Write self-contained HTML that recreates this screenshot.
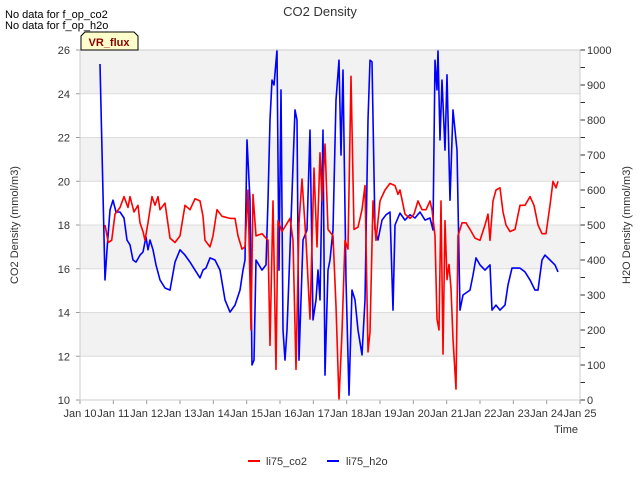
<!DOCTYPE html>
<html><head><meta charset="utf-8"><style>
body{margin:0;background:#fff;}
svg{font-family:"Liberation Sans",sans-serif;}
</style></head><body>
<svg id="chart" width="640" height="480" xmlns="http://www.w3.org/2000/svg">
<text x="320" y="16" text-anchor="middle" font-size="13" fill="#333">CO2 Density</text>
<text x="5" y="18" font-size="11" fill="#000">No data for f_op_co2</text>
<text x="5" y="29" font-size="11" fill="#000">No data for f_op_h2o</text>
<g id="bands"></g>
<g id="grid"></g>
<g id="series"></g>
<g id="axes"></g>
<g>
<path d="M81,50 L81,36 L85,32 L134,32 L138,36 L138,50 Z" fill="#ffffcc" stroke="#000" stroke-width="1"/>
<text x="109" y="46" text-anchor="middle" font-size="11" font-weight="bold" fill="#8b0000">VR_flux</text>
</g>
<text transform="translate(18,225) rotate(-90)" text-anchor="middle" font-size="11" fill="#333">CO2 Density (mmol/m3)</text>
<text transform="translate(630,225) rotate(-90)" text-anchor="middle" font-size="11" fill="#333">H2O Density (mmol/m3)</text>
<text x="578" y="433" text-anchor="end" font-size="11" fill="#333">Time</text>
<g>
<line x1="248" y1="461" x2="260" y2="461" stroke="#f00" stroke-width="2"/>
<text x="266" y="465" font-size="11" fill="#333">li75_co2</text>
<line x1="327" y1="461" x2="339" y2="461" stroke="#00f" stroke-width="2"/>
<text x="346" y="465" font-size="11" fill="#333">li75_h2o</text>
</g>
</svg>
<script>
const co2Days=[0.75,0.85,0.95,1.05,1.2,1.32,1.44,1.5,1.62,1.74,1.8,1.89,1.95,2.04,2.16,2.25,2.34,2.4,2.55,2.7,2.85,3.0,3.15,3.3,3.45,3.6,3.69,3.75,3.9,3.99,4.11,4.26,4.5,4.65,4.74,4.86,4.95,5.04,5.13,5.19,5.28,5.46,5.64,5.7,5.79,5.88,5.94,6.06,6.18,6.3,6.39,6.48,6.57,6.66,6.78,6.9,7.02,7.11,7.2,7.26,7.35,7.44,7.59,7.68,7.77,7.86,7.95,8.04,8.13,8.22,8.34,8.46,8.55,8.64,8.7,8.79,8.88,9.0,9.15,9.3,9.45,9.54,9.6,9.75,9.9,10.02,10.14,10.26,10.38,10.5,10.56,10.65,10.71,10.77,10.83,10.89,10.95,11.01,11.07,11.13,11.19,11.28,11.34,11.46,11.58,11.7,11.85,12.0,12.15,12.24,12.3,12.39,12.48,12.6,12.69,12.78,12.9,13.05,13.2,13.35,13.5,13.62,13.74,13.86,13.98,14.1,14.19,14.28,14.34];
const co2Values=[18.0,17.2,17.3,18.5,18.8,19.3,18.8,19.3,18.6,18.9,18.1,17.7,17.3,18.1,19.3,18.9,19.3,18.7,19.0,17.4,17.2,17.5,18.9,18.7,19.2,19.1,18.4,17.3,17.0,17.5,18.7,18.4,18.3,18.3,17.5,16.9,17.0,19.6,13.2,19.4,17.5,17.6,17.3,12.5,19.1,11.4,18.2,17.7,18.0,18.3,17.3,11.4,18.1,20.1,17.3,13.7,20.6,17.0,21.3,19.1,21.7,17.8,17.5,14.3,10.0,13.1,17.3,16.9,24.8,17.8,17.9,18.7,19.8,12.2,13.1,19.1,17.3,19.1,19.6,19.9,19.8,19.4,19.6,18.5,18.3,18.5,19.1,18.7,18.7,19.1,18.7,17.5,13.7,13.2,19.1,12.1,18.2,15.5,16.2,15.1,12.8,10.5,17.5,18.1,18.1,17.8,17.4,17.3,18.0,18.5,17.3,19.1,19.6,19.7,18.6,18.0,17.7,17.8,18.9,18.9,19.3,18.9,18.0,17.6,17.6,18.9,20.0,19.7,20.0];
const h2oDays=[0.6,0.75,0.81,0.9,0.99,1.08,1.2,1.32,1.41,1.5,1.59,1.68,1.8,1.89,1.98,2.04,2.1,2.19,2.28,2.4,2.55,2.7,2.85,3.0,3.15,3.3,3.45,3.6,3.69,3.78,3.9,4.05,4.2,4.35,4.5,4.65,4.8,4.89,4.95,5.01,5.1,5.16,5.22,5.28,5.46,5.58,5.64,5.7,5.76,5.82,5.91,5.97,6.03,6.09,6.15,6.21,6.3,6.45,6.51,6.57,6.69,6.81,6.9,6.99,7.08,7.14,7.2,7.29,7.35,7.44,7.5,7.59,7.68,7.77,7.83,7.89,7.98,8.07,8.16,8.25,8.34,8.46,8.55,8.64,8.7,8.76,8.85,8.94,9.06,9.18,9.3,9.39,9.45,9.6,9.75,9.9,10.05,10.2,10.35,10.5,10.59,10.65,10.71,10.74,10.8,10.86,10.95,11.01,11.1,11.19,11.31,11.4,11.49,11.7,11.79,11.88,12.0,12.15,12.3,12.36,12.48,12.6,12.75,12.84,12.96,13.2,13.35,13.5,13.65,13.74,13.86,13.95,14.1,14.25,14.34];
const h2oValues=[960,343,429,543,571,537,537,520,457,443,400,394,414,423,466,429,457,429,386,343,320,314,394,429,414,394,371,349,371,377,406,400,371,286,251,271,314,371,400,743,571,100,114,400,371,386,571,800,914,900,1000,371,886,200,114,200,429,829,800,114,457,486,771,229,286,371,286,771,71,371,400,486,857,971,700,943,343,14,314,286,200,129,286,800,971,966,486,457,514,529,537,257,500,534,514,529,520,537,514,520,486,971,886,1000,743,914,714,929,571,829,714,257,300,314,357,406,386,371,386,257,271,257,271,329,377,377,366,343,314,314,400,414,400,386,366];
const leftTicks=[10,12,14,16,18,20,22,24,26];
const rightTicks=[0,100,200,300,400,500,600,700,800,900,1000];
const xTickLabels=["Jan 10","Jan 11","Jan 12","Jan 13","Jan 14","Jan 15","Jan 16","Jan 17","Jan 18","Jan 19","Jan 20","Jan 21","Jan 22","Jan 23","Jan 24","Jan 25"];

const NS="http://www.w3.org/2000/svg";
const L=80,R=580,T=50,B=400;
const xS=d=>L+(d/15)*(R-L);
const yL=v=>B-(v-10)/16*(B-T);
const yR=v=>B-v/1000*(B-T);
function mk(tag,attrs,parent){const e=document.createElementNS(NS,tag);for(const k in attrs)e.setAttribute(k,attrs[k]);parent.appendChild(e);return e;}
const bands=document.getElementById('bands'),grid=document.getElementById('grid'),series=document.getElementById('series'),axes=document.getElementById('axes');
mk('rect',{x:L,y:T,width:R-L,height:B-T,fill:'#fff'},bands);
for(let i=0;i<leftTicks.length-1;i++){
  if(i%2===1){const r=mk('rect',{x:L,y:yL(leftTicks[i+1]),width:R-L,height:yL(leftTicks[i])-yL(leftTicks[i+1]),fill:'#f2f2f2'},bands);
  
  }
}
leftTicks.forEach(v=>{
  const g=mk('line',{x1:L,x2:R,y1:yL(v),y2:yL(v),stroke:'#dcdcdc','stroke-width':1},grid);
  
  
  mk('line',{x1:L-4,x2:L,y1:yL(v),y2:yL(v),stroke:'#999'},axes);
  const t=mk('text',{x:L-10,y:yL(v)+4,'text-anchor':'end','font-size':11,fill:'#333'},axes);
  t.textContent=v;
  
  
});
rightTicks.forEach((v,i)=>{
  mk('line',{x1:R,x2:R+5,y1:yR(v),y2:yR(v),stroke:'#333'},axes);
  if(i<rightTicks.length-1) mk('line',{x1:R,x2:R+5,y1:yR(v+50),y2:yR(v+50),stroke:'#333'},axes);
  const t=mk('text',{x:R+7,y:yR(v)+4,'font-size':11,fill:'#333'},axes);
  t.textContent=v;
  
  
});
xTickLabels.forEach((s,i)=>{
  mk('line',{x1:xS(i),x2:xS(i),y1:B,y2:B+4,stroke:'#999'},axes);
  const t=mk('text',{x:xS(i),y:B+17,'text-anchor':'middle','font-size':11,fill:'#333'},axes);
  t.textContent=s;
  
  
});
mk('rect',{x:L,y:T,width:R-L,height:B-T,fill:'none',stroke:'#ccc'},axes);
function line(days,vals,ys,color,name){
  const p=mk('polyline',{points:days.map((d,i)=>xS(d).toFixed(1)+','+ys(vals[i]).toFixed(1)).join(' '),fill:'none',stroke:color,'stroke-width':1.6,'stroke-linejoin':'round'},series);
  
  
}
line(h2oDays,h2oValues,yR,'#0000ff','h2o-line');
line(co2Days,co2Values,yL,'#ff0000','co2-line');
</script>
</body></html>
